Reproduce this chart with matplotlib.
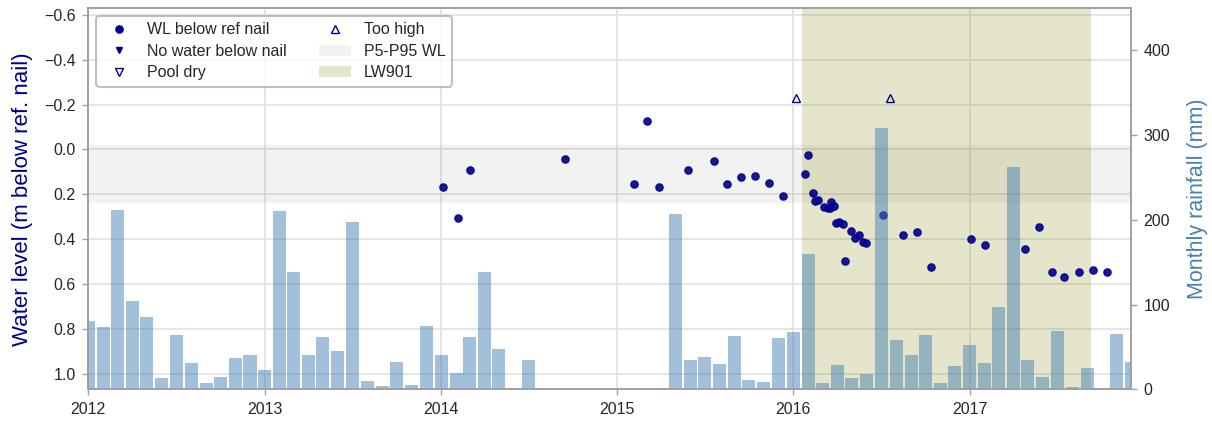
import matplotlib
matplotlib.use("Agg")
import matplotlib.pyplot as plt
import matplotlib.dates as mdates
from matplotlib.lines import Line2D
from matplotlib.patches import Patch
import pandas as pd

# monthly rainfall (mm), Jan 2012 - Dec 2017
rain_months = pd.date_range("2012-01-01", "2017-12-01", freq="MS")
rain_mm = [
    81, 73, 212, 104, 85, 13, 64, 31, 7, 15, 37, 40,      # 2012
    23, 211, 138, 41, 62, 45, 197, 10, 4, 32, 5, 75,      # 2013
    41, 19, 62, 139, 48, 0, 34, 0, 0, 0, 0, 0,            # 2014
    0, 0, 0, 0, 207, 35, 38, 30, 63, 11, 9, 61,           # 2015
    68, 160, 8, 29, 13, 18, 308, 58, 41, 64, 8, 28,       # 2016
    52, 31, 97, 262, 34, 15, 69, 3, 25, 0, 65, 32,        # 2017
]

# water level below reference nail (m)
wl_dates = [
    "2014-01-05", "2014-02-05", "2014-03-03", "2014-09-15", "2015-02-04",
    "2015-03-03", "2015-03-29", "2015-05-28", "2015-07-20", "2015-08-17",
    "2015-09-14", "2015-10-14", "2015-11-11", "2015-12-10", "2016-01-25",
    "2016-02-01", "2016-02-10", "2016-02-16", "2016-02-21", "2016-03-05",
    "2016-03-12", "2016-03-17", "2016-03-20", "2016-03-25", "2016-03-29",
    "2016-04-04", "2016-04-13", "2016-04-17", "2016-04-29", "2016-05-08",
    "2016-05-17", "2016-05-25", "2016-05-30", "2016-07-05", "2016-08-15",
    "2016-09-13", "2016-10-12", "2017-01-04", "2017-02-02", "2017-04-25",
    "2017-05-24", "2017-06-20", "2017-07-16", "2017-08-15", "2017-09-13",
    "2017-10-12",
]
wl_m = [
    0.166, 0.304, 0.090, 0.041, 0.155,
    -0.127, 0.170, 0.093, 0.050, 0.155,
    0.123, 0.117, 0.148, 0.210, 0.111,
    0.025, 0.193, 0.231, 0.227, 0.256,
    0.260, 0.262, 0.237, 0.253, 0.329,
    0.323, 0.335, 0.499, 0.365, 0.395,
    0.381, 0.411, 0.419, 0.291, 0.383,
    0.369, 0.525, 0.399, 0.426, 0.444,
    0.347, 0.546, 0.570, 0.545, 0.537,
    0.548,
]

too_high_dates = ["2016-01-07", "2016-07-19"]
too_high_m = [-0.227, -0.227]

p5_wl, p95_wl = -0.02, 0.24
lw901_start, lw901_end = "2016-01-19", "2017-09-09"

plt.rcParams["font.family"] = ["Liberation Sans", "DejaVu Sans"]
plt.rcParams["axes.unicode_minus"] = True

wl_color = "darkblue"
rain_color = "steelblue"
spine_color = "#a0a0a0"
text_color = "#262626"

fig = plt.figure(figsize=(12.12, 4.25), dpi=100)
ax = fig.add_axes([0.0729, 0.084, 0.8603, 0.897])
ax2 = ax.twinx()

# background bands
ax.axhspan(p5_wl, p95_wl, color="grey", alpha=0.1, lw=0, zorder=1)
ax.axvspan(pd.Timestamp(lw901_start), pd.Timestamp(lw901_end),
           color="olive", alpha=0.2, lw=0, zorder=1)

wl_t = pd.to_datetime(wl_dates)
ax.plot(wl_t, wl_m, "o", color=wl_color, alpha=0.9, ms=5.2, zorder=3)
ax.plot(pd.to_datetime(too_high_dates), too_high_m, "^", mfc="none",
        mec=wl_color, mew=1.0, ms=6, zorder=3)

ax2.bar(rain_months, rain_mm, width=27, color=rain_color, alpha=0.5,
        lw=0, zorder=2)

ax.set_xlim(pd.Timestamp("2012-01-01"), pd.Timestamp("2017-12-01"))
ax.set_ylim(1.07, -0.63)
ax.set_yticks([-0.6, -0.4, -0.2, 0.0, 0.2, 0.4, 0.6, 0.8, 1.0])
ax2.set_ylim(0, 450)
ax2.set_yticks([0, 100, 200, 300, 400])

ax.xaxis.set_major_locator(mdates.YearLocator())
ax.xaxis.set_major_formatter(mdates.DateFormatter("%Y"))

ax.grid(True, color="#e3e3e3", lw=1.3, zorder=0)
ax.set_axisbelow(True)
ax2.grid(False)

for a in (ax, ax2):
    for s in a.spines.values():
        s.set_color(spine_color)
        s.set_linewidth(1.2)
    a.tick_params(labelsize=11.5, colors=text_color, length=4, width=1,
                  color=spine_color, pad=5)

ax.set_ylabel("Water level (m below ref. nail)", color=wl_color,
              fontsize=16, labelpad=8)
ax2.set_ylabel("Monthly rainfall (mm)", color=rain_color, fontsize=15.5,
               labelpad=12)

handles = [
    Line2D([], [], ls="none", marker="o", color=wl_color, ms=5.2),
    Line2D([], [], ls="none", marker="v", color=wl_color, ms=5),
    Line2D([], [], ls="none", marker="v", mfc="none", mec=wl_color, ms=6),
    Line2D([], [], ls="none", marker="^", mfc="none", mec=wl_color, ms=6),
    Patch(facecolor="grey", alpha=0.1, lw=0),
    Patch(facecolor="olive", alpha=0.2, lw=0),
]
labels = ["WL below ref nail", "No water below nail", "Pool dry",
          "Too high", "P5-P95 WL", "LW901"]
leg = ax2.legend(handles, labels, ncol=2, loc="upper left", fontsize=11.5,
                 frameon=True, fancybox=True, edgecolor="#b0b0b0",
                 framealpha=0.8, labelspacing=0.4, columnspacing=2.0)
leg.get_frame().set_linewidth(1.5)
for t in leg.get_texts():
    t.set_color(text_color)

fig.savefig("out.png", dpi=100)
